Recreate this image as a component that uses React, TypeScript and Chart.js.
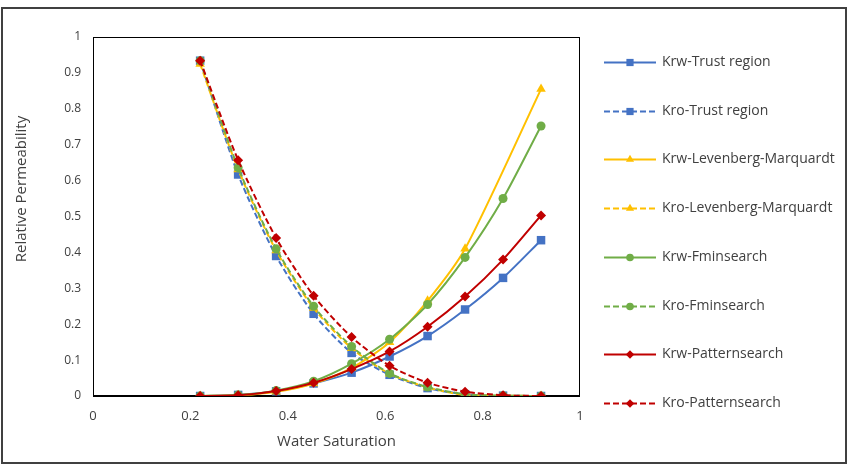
import React, { useEffect, useRef } from "react";
import { Chart, registerables } from "chart.js";

Chart.register(...registerables);

// Water saturation sample points
const sw = [0.22, 0.298, 0.376, 0.453, 0.531, 0.609, 0.687, 0.764, 0.842, 0.92];

// Relative permeability curves fitted by each optimiser
const krwTrust = [0, 0.003, 0.013, 0.035, 0.065, 0.11, 0.167, 0.241, 0.329, 0.434];
const kroTrust = [0.934, 0.617, 0.39, 0.229, 0.12, 0.059, 0.022, 0.005, 0.001, 0];
const krwLM = [0, 0.002, 0.012, 0.035, 0.078, 0.15, 0.265, 0.41, null, 0.855];
const kroLM = [0.925, 0.631, 0.405, 0.245, 0.133, 0.062, 0.024, 0.003, null, 0];
const krwFmin = [0, 0.003, 0.015, 0.041, 0.09, 0.158, 0.255, 0.386, 0.55, 0.752];
const kroFmin = [0.934, 0.636, 0.41, 0.25, 0.138, 0.063, 0.025, 0.005, 0.001, 0];
const krwPattern = [0, 0.002, 0.014, 0.037, 0.075, 0.124, 0.193, 0.277, 0.38, 0.503];
const kroPattern = [0.934, 0.657, 0.44, 0.279, 0.164, 0.084, 0.037, 0.012, 0.002, 0];

// Axis ticks
const xTicks = [0, 0.2, 0.4, 0.6, 0.8, 1];
const yTicks = [0, 0.1, 0.2, 0.3, 0.4, 0.5, 0.6, 0.7, 0.8, 0.9, 1];

const FONT = "'Open Sans', 'Liberation Sans', sans-serif";
const TEXT = "#404040";
const DASH = [6, 3];

const series = [
  { label: "Krw-Trust region", values: krwTrust, color: "#4472C4", marker: "rect", dashed: false },
  { label: "Kro-Trust region", values: kroTrust, color: "#4472C4", marker: "rect", dashed: true },
  { label: "Krw-Levenberg-Marquardt", values: krwLM, color: "#FFC000", marker: "triangle", dashed: false },
  { label: "Kro-Levenberg-Marquardt", values: kroLM, color: "#FFC000", marker: "triangle", dashed: true },
  { label: "Krw-Fminsearch", values: krwFmin, color: "#70AD47", marker: "circle", dashed: false },
  { label: "Kro-Fminsearch", values: kroFmin, color: "#70AD47", marker: "circle", dashed: true },
  { label: "Krw-Patternsearch", values: krwPattern, color: "#C00000", marker: "rectRot", dashed: false },
  { label: "Kro-Patternsearch", values: kroPattern, color: "#C00000", marker: "rectRot", dashed: true },
];

const markerRadius: Record<string, number> = { rect: 6, triangle: 5.5, circle: 4.5, rectRot: 5 };

function drawMarker(ctx: CanvasRenderingContext2D, kind: string, x: number, y: number, r: number) {
  ctx.beginPath();
  if (kind === "rect") {
    const s = r * Math.SQRT1_2;
    ctx.rect(x - s, y - s, 2 * s, 2 * s);
  } else if (kind === "circle") {
    ctx.arc(x, y, r, 0, Math.PI * 2);
  } else if (kind === "triangle") {
    ctx.moveTo(x, y - r);
    ctx.lineTo(x + r * 0.866, y + r * 0.5);
    ctx.lineTo(x - r * 0.866, y + r * 0.5);
    ctx.closePath();
  } else {
    ctx.moveTo(x, y - r);
    ctx.lineTo(x + r, y);
    ctx.lineTo(x, y + r);
    ctx.lineTo(x - r, y);
    ctx.closePath();
  }
  ctx.fill();
}

// Plot frame, axis line, axis titles and the side legend
const decorations = {
  id: "decorations",
  beforeDatasetsDraw(chart: any) {
    const { ctx, chartArea: a } = chart;
    ctx.save();
    ctx.strokeStyle = "#000000";
    ctx.lineWidth = 1;
    ctx.strokeRect(a.left + 0.5, a.top + 0.5, a.right - a.left - 1, a.bottom - a.top);
    ctx.lineWidth = 2;
    ctx.beginPath();
    ctx.moveTo(a.left, a.bottom);
    ctx.lineTo(a.right, a.bottom);
    ctx.stroke();
    ctx.restore();
  },
  afterDraw(chart: any) {
    const { ctx, chartArea: a } = chart;
    ctx.save();
    ctx.fillStyle = TEXT;
    ctx.textAlign = "center";
    ctx.textBaseline = "middle";
    // x-axis title
    ctx.font = `15px ${FONT}`;
    ctx.fillText("Water Saturation", (a.left + a.right) / 2, 442);
    // y-axis title
    ctx.translate(22, 189);
    ctx.rotate(-Math.PI / 2);
    ctx.font = `15px ${FONT}`;
    ctx.fillText("Relative Permeability", 0, 0);
    ctx.restore();

    // legend
    ctx.save();
    const top = 62;
    const step = 48.7;
    chart.data.datasets.forEach((ds: any, i: number) => {
      const s = series[i];
      const y = Math.round(top + i * step) + 0.5;
      ctx.strokeStyle = s.color;
      ctx.fillStyle = s.color;
      ctx.lineWidth = 2;
      ctx.setLineDash(s.dashed ? DASH : []);
      ctx.beginPath();
      ctx.moveTo(604, y);
      ctx.lineTo(656, y);
      ctx.stroke();
      ctx.setLineDash([]);
      drawMarker(ctx, s.marker, 630, y, markerRadius[s.marker] * 0.85);
      ctx.fillStyle = TEXT;
      ctx.font = `14px ${FONT}`;
      ctx.textAlign = "left";
      ctx.textBaseline = "middle";
      ctx.fillText(ds.label, 662, y);
    });
    ctx.restore();
  },
};

export default function App() {
  const canvasRef = useRef<HTMLCanvasElement | null>(null);

  useEffect(() => {
    const canvas = canvasRef.current;
    if (!canvas) return;
    const n = series.length;
    const chart = new Chart(canvas, {
      type: "line",
      data: {
        datasets: series.map((s, i) => ({
          label: s.label,
          data: sw.map((x, j) => ({ x, y: s.values[j] })),
          borderColor: s.color,
          backgroundColor: s.color,
          borderWidth: 2,
          borderDash: s.dashed ? DASH : [],
          pointStyle: s.marker as any,
          pointRadius: markerRadius[s.marker],
          pointHoverRadius: markerRadius[s.marker],
          pointBorderWidth: 0,
          pointBackgroundColor: s.color,
          tension: 0.25,
          spanGaps: true,
          fill: false,
          order: n - i,
        })),
      },
      options: {
        responsive: false,
        animation: false,
        layout: { padding: { top: 37, right: 269, left: 0, bottom: 0 } },
        plugins: {
          legend: { display: false },
          tooltip: { enabled: false },
        },
        scales: {
          x: {
            type: "linear",
            min: 0,
            max: 1,
            afterBuildTicks: (axis: any) => {
              axis.ticks = xTicks.map((v) => ({ value: v }));
            },
            afterFit: (axis: any) => {
              axis.height = 72;
            },
            grid: { display: false, drawTicks: false },
            border: { display: false },
            ticks: {
              padding: 12,
              color: TEXT,
              font: { family: FONT, size: 13 },
              maxRotation: 0,
              callback: (v: any) => String(v),
            },
          },
          y: {
            type: "linear",
            min: 0,
            max: 1,
            afterBuildTicks: (axis: any) => {
              axis.ticks = yTicks.map((v) => ({ value: v }));
            },
            afterFit: (axis: any) => {
              axis.width = 93;
            },
            grid: { display: false, drawTicks: false },
            border: { display: false },
            ticks: {
              padding: 12,
              color: TEXT,
              font: { family: FONT, size: 12 },
              callback: (v: any) => String(v),
            },
          },
        },
      },
      plugins: [decorations],
    });
    return () => chart.destroy();
  }, []);

  return (
    <div style={{ position: "fixed", left: 0, top: 0, width: 849, height: 468, background: "#ffffff" }}>
      <canvas ref={canvasRef} width={849} height={468} style={{ position: "absolute", left: 0, top: 0 }} />
      <div
        style={{
          position: "absolute",
          left: 1,
          top: 7,
          width: 846,
          height: 457,
          boxSizing: "border-box",
          border: "2px solid #404040",
          pointerEvents: "none",
        }}
      />
    </div>
  );
}
